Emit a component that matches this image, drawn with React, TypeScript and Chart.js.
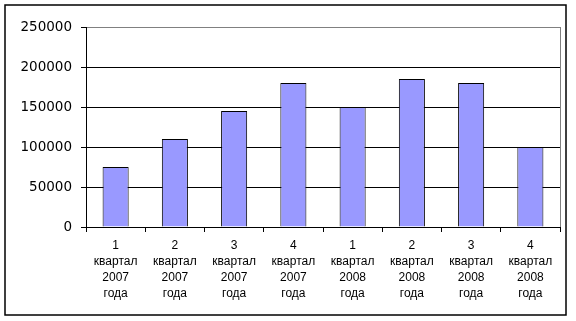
import React, { useEffect, useRef } from "react";
import { Chart, registerables } from "chart.js";

Chart.register(...registerables);

const categories: string[][] = [
  ["1", "квартал", "2007", "года"],
  ["2", "квартал", "2007", "года"],
  ["3", "квартал", "2007", "года"],
  ["4", "квартал", "2007", "года"],
  ["1", "квартал", "2008", "года"],
  ["2", "квартал", "2008", "года"],
  ["3", "квартал", "2008", "года"],
  ["4", "квартал", "2008", "года"],
];
const values: number[] = [75000, 110000, 145000, 180000, 150000, 185000, 180000, 100000];
const yMin = 0;
const yMax = 250000;
const yStep = 50000;

const framePlugin = {
  id: "frame",
  beforeDraw(chart: any) {
    const ctx = chart.ctx;
    ctx.save();
    ctx.fillStyle = "#ffffff";
    ctx.fillRect(0, 0, chart.width, chart.height);
    ctx.restore();
  },
  afterDraw(chart: any) {
    const ctx = chart.ctx;
    const a = chart.chartArea;
    ctx.save();
    ctx.strokeStyle = "#808080";
    ctx.lineWidth = 1;
    ctx.beginPath();
    ctx.moveTo(Math.round(a.right) + 0.5, Math.round(a.top));
    ctx.lineTo(Math.round(a.right) + 0.5, Math.round(a.bottom));
    ctx.stroke();
    ctx.strokeStyle = "#000000";
    ctx.lineWidth = 1.5;
    ctx.strokeRect(5, 5, 561, 310);
    ctx.restore();
  },
};

export default function App() {
  const ref = useRef<HTMLCanvasElement | null>(null);
  useEffect(() => {
    if (!ref.current) return;
    const chart = new Chart(ref.current, {
      type: "bar",
      data: {
        labels: categories,
        datasets: [
          {
            data: values,
            backgroundColor: "#9999FF",
            borderColor: "#000000",
            borderWidth: 1,
            barPercentage: 0.44,
            categoryPercentage: 1,
          },
        ],
      },
      options: {
        animation: false,
        responsive: false,
        events: [],
        layout: { padding: { left: 0, top: 27, right: 16, bottom: 19 } },
        plugins: {
          legend: { display: false },
          tooltip: { enabled: false },
          title: { display: false },
        },
        scales: {
          x: {
            offset: true,
            grid: {
              offset: true,
              drawOnChartArea: false,
              drawTicks: true,
              tickLength: 5,
              tickColor: "#000000",
            },
            border: { display: true, color: "#000000", width: 1 },
            ticks: {
              color: "#000000",
              padding: 6,
              maxRotation: 0,
              autoSkip: false,
              font: { family: "'Liberation Sans', Arial, sans-serif", size: 12, lineHeight: 16 / 12 },
            },
            afterFit(scale: any) {
              scale.height = 75;
            },
          },
          y: {
            min: yMin,
            max: yMax,
            grid: {
              color: (c: any) => (c.tick && c.tick.value === yMax ? "#808080" : "#000000"),
              tickColor: "#000000",
              tickLength: 5,
              drawTicks: true,
            },
            border: { display: true, color: "#000000", width: 1 },
            ticks: {
              stepSize: yStep,
              color: "#000000",
              padding: 9,
              font: { family: "'DejaVu Sans', sans-serif", size: 13.5 },
              callback: (v: any) => String(v),
            },
            afterFit(scale: any) {
              scale.width = 86;
            },
          },
        },
      },
      plugins: [framePlugin],
    });
    return () => chart.destroy();
  }, []);
  return (
    <div style={{ position: "fixed", left: 0, top: 0, width: 576, height: 321, background: "#fff" }}>
      <canvas ref={ref} width={576} height={321} style={{ display: "block", width: 576, height: 321 }} />
    </div>
  );
}
